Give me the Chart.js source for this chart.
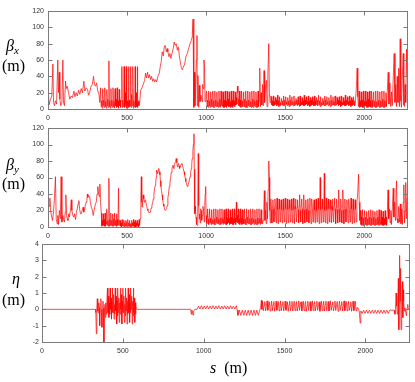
<!DOCTYPE html>
<html><head><meta charset="utf-8">
<script src="https://cdn.jsdelivr.net/npm/chart.js@4.4.1/dist/chart.umd.min.js"></script>
<style>
html,body{margin:0;padding:0;background:#fff;}
#wrap{position:relative;width:415px;height:382px;overflow:hidden;background:#fff;}
canvas{position:absolute;left:0;top:0;}
.lab{position:absolute;font-family:"Liberation Serif","DejaVu Serif",serif;color:#000;white-space:nowrap;line-height:16px;font-size:16px;}
.lab i{font-style:italic;}
.lab .sb{position:relative;top:3px;font-size:11px;font-style:italic;}
</style></head><body>
<div id="wrap">
<canvas id="c1" width="415" height="382"></canvas>
<canvas id="c2" width="415" height="382"></canvas>
<canvas id="c3" width="415" height="382"></canvas>
<div class="lab" style="left:6px;top:38px"><i>β</i><span class="sb">x</span></div>
<div class="lab" style="left:2px;top:58px">(m)</div>
<div class="lab" style="left:6px;top:157px"><i>β</i><span class="sb">y</span></div>
<div class="lab" style="left:2px;top:176px">(m)</div>
<div class="lab" style="left:12px;top:271px"><i>η</i></div>
<div class="lab" style="left:2px;top:292px">(m)</div>
<div class="lab" style="left:210px;top:360px"><i>s</i>&nbsp;&nbsp;(m)</div>
</div>
<script>
// ---------- data ----------
const xTicks = [0, 500, 1000, 1500, 2000];
const betaTicks = [0, 20, 40, 60, 80, 100, 120];
const etaTicks = [-2, -1, 0, 1, 2, 3, 4];

const sBetaX = [
0,3,7,16,24,31,35,41,47,54,62,66,71,75,81,88,94,98,104,111,115,121,130,138,147,155,164,170,178,185,193,201,210,218,227,233,242,250,256,263,271,280,288,294,301,307,315,322,328,
333,336,339,342,346,349,352,355,359,362,365,368,372,375,378,381,385,388,391,394,398,401,404,407,411,414,417,420,424,427,430,433,437,440,443,446,450,453,456,459,
463,467,470,473,476,479,481,484,487,490,493,495,498,501,504,507,509,512,515,518,521,523,526,529,532,535,537,540,543,546,549,551,554,557,560,563,565,568,571,575,580,
586,594,602,611,617,623,630,636,642,649,
655,662,668,674,681,687,695,704,710,716,
722,729,735,741,748,754,758,765,771,777,
784,792,798,805,811,818,824,830,836,843,
849,855,864,872,881,889,898,906,912,917,
921,923,927,929,933,938,942,944,948,953,
957,961,968,974,978,982,986,990,993,999,
1003,1006,1009,1012,1016,1019,1022,1025,1029,1032,1035,1038,1042,1045,1048,1051,1055,1058,1061,1064,
1068,1071,1074,1077,1081,1084,1087,1090,1094,1097,1100,1103,1107,1110,1113,1116,1120,1123,1126,1129,
1133,1136,1139,1142,1146,1149,1152,1155,1159,1162,1165,1168,1172,1175,1178,1181,1185,1188,1191,1194,
1198,1201,1204,1207,1211,1214,1217,1220,1224,1227,1230,1233,1237,1240,1243,1246,1250,1253,1256,1259,
1263,1266,1269,1272,1276,1279,1282,1285,1289,1292,1295,1298,1302,1305,1308,1311,1315,1318,1321,1324,
1328,1331,
1335,1339,1343,1347,1352,1357,1361,1366,1370,1375,1381,1385,1390,1396,1400,1404,1409,
1412,1415,1418,1421,1425,1428,1431,1434,1438,1441,1444,1447,1451,1454,1457,1460,1464,1467,1470,1473,
1477,1480,1483,1486,1490,1493,1496,1499,1503,1506,1509,1512,1516,1519,1522,1525,1529,1532,1535,1538,
1542,1545,1548,1551,1555,1558,1561,1564,1568,1571,1574,1577,1581,1584,1587,1590,1594,1597,1600,1603,
1607,1610,1613,1616,1620,1623,1626,1629,1633,1636,1639,1642,1646,1649,1652,1655,1659,1662,1665,1668,
1672,1675,1678,1681,1685,1688,1691,1694,1698,1701,1704,1707,1711,1714,1717,1720,1724,1727,1730,1733,
1737,1740,1743,1746,1750,1753,1756,1759,1763,1766,1769,1772,1776,1779,1782,1785,1789,1792,1795,1798,
1802,1805,1808,1811,1815,1818,1821,1824,1828,1831,1834,1837,1841,1844,1847,1850,1854,1857,1860,1863,
1867,1870,1873,1876,1880,1883,1886,1889,1893,1896,1899,1902,1906,1909,1912,1915,1919,1922,1925,1928,
1932,1935,1938,1941,
1945,1950,1955,1959,1963,
1968,1971,1974,1977,1981,1984,1987,1990,1994,1997,2000,2003,2007,2010,2013,2016,2020,2023,2026,2029,
2033,2036,2039,2042,2046,2049,2052,2055,2059,2062,2065,2068,2072,2075,2078,2081,2085,2088,2091,2094,
2098,2101,2104,2107,2111,2114,2117,2120,2124,2127,2130,2133,2137,2140,
2145,2151,2156,2162,2167,2172,2177,2183,2189,2194,2199,2203,2208,2213,2218,2222,2227,2231,2235,2240,2246,2250,2254,2258,2262,2267,2270
];
const betaX = [
35,18,5,12,16,55,8,4,10,6,60,20,45,12,4,8,60,8,4,34,25,28,20,12,16,14,22,15,20,16,23,18,25,20,34,22,26,24,17,20,27,30,40,30,28,32,22,18,8,
26,3,10,1,25,4,11,2,26,3,9,1,24,4,12,2,59,3,10,1,25,4,11,2,26,3,9,1,25,4,12,2,26,3,10,1,24,4,11,2,
14,52,2,11,3,8,52,2,20,3,7,52,1,10,3,9,52,2,11,3,8,52,2,18,4,7,52,1,10,3,9,52,2,20,3,8,52,2,10,4,8,
23,26,30,35,44,38,45,38,42,36,
40,34,37,33,36,33,40,44,52,58,
70,65,76,78,70,74,70,64,68,62,
68,74,82,78,80,72,76,66,58,51,
48,51,55,64,68,74,80,84,88,110,
53,2,45,4,25,60,90,4,41,2,
29,9,17,9,30,25,60,53,9,19,
22,3,11,2,22,4,10,2,21,3,12,3,22,2,10,2,22,4,11,3,
21,3,9,2,22,3,12,2,22,4,10,3,21,2,11,2,22,3,10,2,
22,4,12,3,21,3,9,2,22,3,11,2,22,4,10,3,21,5,14,6,
28,20,12,4,22,3,11,2,22,4,10,3,21,3,12,2,22,2,10,2,
22,4,11,3,21,3,9,2,22,3,12,2,22,4,10,3,21,2,11,2,
22,3,
10,50,3,20,5,30,4,47,8,25,35,3,40,80,20,8,16,
15,5,10,4,16,4,9,5,14,6,11,4,17,5,10,3,15,4,8,5,
13,5,10,4,16,4,11,5,15,6,9,4,14,5,10,3,17,4,11,5,
15,5,9,4,16,4,10,5,13,6,11,4,15,5,10,3,16,4,8,5,
14,5,10,4,17,4,11,5,15,6,9,4,16,5,10,3,14,4,11,5,
15,5,9,4,16,4,10,5,14,6,11,4,17,5,10,3,15,4,8,5,
13,5,10,4,16,4,11,5,15,6,9,4,14,5,10,3,17,4,11,5,
15,5,9,4,16,4,10,5,14,6,11,4,15,5,10,3,16,4,8,5,
14,5,10,4,17,4,11,5,15,6,9,4,16,5,10,3,14,4,11,5,
15,5,10,4,
12,27,50,15,3,
22,2,10,3,21,3,11,2,22,2,9,3,22,4,10,2,21,2,12,3,
22,3,10,2,22,2,11,3,21,3,10,2,22,2,9,3,22,4,11,2,
21,2,10,3,22,3,12,2,22,2,10,3,20,3,
20,45,6,32,3,21,4,38,68,8,30,3,40,8,50,3,86,10,2,35,68,5,3,30,8,73,40
];

const sBetaY = [
0,3,7,12,16,22,28,35,41,47,52,58,62,66,72,78,83,88,94,100,104,109,113,117,122,126,131,135,142,147,151,157,163,168,174,180,185,190,195,200,205,210,216,222,226,231,236,241,246,249,252,258,263,268,274,280,286,291,294,300,305,310,315,320,324,328,332,
337,340,343,346,349,352,355,358,361,364,367,370,373,376,379,382,385,388,391,394,397,400,403,406,409,412,415,418,421,424,427,430,433,436,439,442,446,449,452,
456,459,462,465,468,471,474,477,480,483,486,489,492,495,498,501,504,507,510,513,516,519,522,525,528,531,534,537,540,543,546,549,552,555,558,561,564,567,570,573,576,579,
583,587,590,593,596,602,606,609,613,617,
623,628,632,636,640,645,649,653,657,662,
666,670,674,678,681,684,687,690,693,697,
700,704,708,711,714,718,721,725,729,733,
737,741,746,750,754,758,763,767,771,775,
779,784,787,790,793,796,800,805,808,811,
815,818,822,826,829,832,835,838,842,847,
851,855,860,864,868,872,876,881,885,889,
894,898,902,906,909,912,916,919,923,925,
927,929,931,933,936,938,941,944,947,950,
953,956,959,962,965,968,972,976,980,985,
988,991,994,997,1000,
1003,1006,
1009,1012,1015,1018,1022,1025,1028,1031,1035,1038,1041,1044,1048,1051,1054,1057,1061,1064,1067,1070,
1074,1077,1080,1083,1087,1090,1093,1096,1100,1103,1106,1109,1113,1116,1119,1122,1126,1129,1132,1135,
1139,1142,1145,1148,1152,1155,1158,1161,1165,1168,1171,1174,1178,1181,1184,1187,1191,1194,1197,1200,
1204,1207,1210,1213,1217,1220,1223,1226,1230,1233,1236,1239,1243,1246,1249,1252,1256,1259,1262,1265,
1269,1272,1275,1278,1282,1285,1288,1291,1295,1298,1301,1304,1308,1311,1314,1317,1321,1324,1327,1330,
1334,1337,1340,1343,1347,1350,1353,1356,1360,
1365,1368,1372,1376,1380,1384,1388,1392,1396,1399,1402,1405,
1409,1412,1416,1419,1422,1425,1429,1432,1435,1438,1442,1445,1448,1451,1455,1458,1461,1464,1468,1471,
1474,1477,1481,1484,1487,1490,1494,1497,1500,1503,1507,1510,1513,1516,1520,1523,1526,1529,1533,1536,
1539,1542,1546,1549,1552,1555,1559,1562,1565,1568,1572,1575,1578,1581,1585,1588,1591,1594,1598,1601,
1604,1607,1611,1614,1617,1620,1624,1627,1630,1633,1637,1640,1643,1646,1650,1653,1656,1659,1663,1666,
1669,1672,1676,1679,1682,1685,1689,1692,1695,1698,1702,1705,1708,1711,1715,1718,1721,1724,1728,1731,
1734,1737,1741,1744,1747,1750,1754,1757,1760,1763,1767,1770,1773,1776,1780,1783,1786,1789,1793,1796,
1799,1802,1806,1809,1812,1815,1819,1822,1825,1828,1832,1835,1838,1841,1845,1848,1851,1854,1858,1861,
1864,1867,1871,1874,1877,1880,1884,1887,1890,1893,1897,1900,1903,1906,1910,1913,1916,1919,1923,1926,
1929,1932,1936,1939,1942,1945,1949,
1953,1958,1964,1968,1972,
1976,1979,1982,1985,1989,1992,1995,1998,2002,2005,2008,2011,2015,2018,2021,2024,2028,2031,2034,2037,
2041,2044,2047,2050,2054,2057,2060,2063,2067,2070,2073,2076,2080,2083,2086,2089,2093,2096,2099,2102,
2106,2109,2112,2115,2119,2122,2125,2128,2132,2135,2138,2141,2145,
2150,2154,2158,2163,2168,2172,2178,2183,2187,2192,2197,2200,2204,2208,2213,2218,2223,2228,2232,2237,2241,2246,2250,2254,2258,2262,2266,2270
];
const betaY = [
35,28,25,35,20,14,8,18,35,61,10,4,14,3,20,10,61,6,14,8,6,18,39,14,10,8,16,12,20,33,20,14,12,16,9,18,22,28,32,22,16,16,20,24,18,20,26,30,32,40,36,38,37,30,24,21,14,20,20,28,30,40,49,40,37,52,30,
17,1,8,2,16,2,9,1,17,1,7,3,22,2,8,1,59,1,9,2,17,2,8,1,16,1,10,2,17,2,8,1,16,1,9,2,47,2,8,
8,1,5,0,9,1,4,1,8,0,5,1,8,1,6,0,9,1,5,1,8,0,4,0,8,1,5,1,9,1,6,0,8,0,5,1,8,1,4,0,9,2,
10,35,61,30,24,39,34,30,32,33,
26,22,20,18,17,18,20,23,26,30,
34,40,47,50,53,60,69,66,65,68,
71,67,63,56,49,44,39,33,28,25,
22,20,20,22,26,35,42,49,54,59,
66,71,73,75,72,71,76,79,81,83,
78,73,75,77,74,71,73,75,76,77,
74,71,67,63,59,55,52,49,51,53,
57,61,66,71,77,83,92,100,113,70,
43,16,25,20,12,8,3,2,30,89,
26,10,16,5,22,20,8,14,25,18,
6,26,40,49,14,
4,12,
22,4,10,3,22,5,11,3,21,4,9,4,22,3,10,3,22,5,12,4,
21,4,10,3,22,3,11,4,22,5,10,3,21,4,9,3,22,3,11,4,
22,5,10,3,21,4,12,4,22,3,10,3,22,5,11,3,30,6,14,5,
22,4,10,3,22,5,11,3,21,4,9,4,22,3,10,3,22,5,12,4,
21,4,10,3,22,3,11,4,22,5,10,3,21,4,9,3,22,3,11,4,
22,5,10,3,21,4,12,4,8,
25,44,8,20,4,30,10,45,80,60,20,5,
34,21,5,25,33,22,6,24,34,20,5,26,35,21,4,25,34,22,6,24,
33,21,5,25,34,20,6,26,35,22,4,24,34,21,5,25,33,22,6,24,
34,20,5,26,35,21,4,25,34,22,6,24,33,21,5,25,39,20,6,26,
34,22,4,24,39,21,5,25,33,22,6,24,34,20,5,26,35,21,4,25,
34,22,6,24,33,21,5,25,34,20,6,26,35,22,4,24,60,21,5,25,
34,22,6,24,65,20,5,26,35,21,4,25,34,22,6,24,33,21,5,25,
34,20,6,26,35,22,4,24,34,21,5,25,45,22,6,24,34,20,5,26,
45,21,4,25,34,22,6,24,33,21,5,25,34,20,6,26,35,22,4,24,
34,21,5,25,33,22,6,
30,40,64,30,8,
20,3,12,2,21,2,11,3,20,3,12,2,19,2,10,3,20,3,12,2,
21,2,11,3,20,3,12,2,19,2,10,3,20,3,12,2,21,2,11,3,
20,3,12,2,19,2,10,3,20,3,12,2,15,
45,10,22,5,20,3,25,47,12,30,8,40,56,10,5,25,6,28,4,22,3,30,51,5,20,54,10,35
];

const sEta = [
0,330,333,336,339,342,345,348,351,354,357,361,364,367,371,374,377,380,383,386,389,392,395,398,401,
405,408,411,414,417,419,421,424,427,430,433,435,437,440,443,446,449,451,453,456,459,462,465,467,
469,472,475,478,481,483,485,488,491,494,497,499,501,504,507,510,513,515,517,520,523,526,529,531,
533,536,539,542,545,547,549,552,555,558,561,563,565,568,571,574,577,579,
581,585,
920,923,926,930,934,938,945,960,
968,977,986,995,1004,1013,1022,1031,1040,1049,1058,1067,1076,1085,1094,1103,1112,1121,1130,1139,1148,1157,1166,1175,1184,1193,1202,1208,
1212,1221,1230,1239,1248,1257,1266,1275,1284,1293,1302,1311,1320,1329,1338,1347,
1352,1357,1360,
1364,1369,1374,1378,1383,1388,1392,1397,1402,1406,1411,1416,1420,1425,1430,1434,1439,1444,1448,1453,1458,
1462,1467,1472,1476,1481,1486,1490,1495,1500,1504,1509,1514,1518,1523,1528,1532,1537,1542,1546,1551,1556,
1560,1565,1570,1574,1579,1584,1588,1593,1598,1602,1607,1612,1616,1621,1626,1630,1635,1640,1644,1649,1654,
1658,1663,1668,1672,1677,1682,1686,1691,1696,1700,1705,1710,1714,1719,1724,1728,1733,1738,1742,1747,1752,
1756,1761,1766,1770,1775,1780,1784,1789,1794,1798,1803,1808,1812,1817,1822,1826,1831,1836,1840,1845,1850,
1854,1859,1864,1868,1873,1878,1882,1887,1892,1896,1901,1906,1910,1915,1920,1924,1929,1934,1938,1943,1948,
1955,1962,1968,1972,
1980,1989,1998,2007,2016,2025,2034,2043,2052,2061,2070,2079,2088,2097,2106,2115,2124,2133,2142,2151,2178,
2183,2186,2190,2194,2198,2201,2204,2207,2210,2212,2215,2217,2219,2221,2224,2226,2229,2232,2235,2237,2241,2245,2250,2254,2258,2262,2266,2270
];
const eta = [
0,0,-0.2,-1.5,0,0.65,-0.1,-0.2,0.4,0.1,-1.0,0.3,0.65,0,-1.1,0.2,0.5,0.1,-2.0,0,0.3,-0.5,0.4,-0.3,0.5,
1.3,-0.2,0.8,-0.5,0.4,-0.3,1.3,0.0,0.7,-0.6,0.5,-0.2,1.3,-0.2,0.9,-0.6,0.3,-0.3,1.3,-0.1,0.8,-0.9,0.5,-0.4,
1.3,-0.2,0.7,-0.8,0.4,-0.3,1.3,0.0,0.9,-0.9,0.5,-0.2,1.3,-0.2,0.8,-0.8,0.3,-0.4,1.3,-0.1,0.7,-0.9,0.5,-0.3,
1.3,-0.2,0.9,-0.8,0.4,-0.2,1.3,0.0,0.8,-0.9,0.5,-0.4,1.3,-0.2,0.7,-0.8,0.4,-0.3,
0.2,0,
0,-0.3,-0.05,-0.1,-0.35,-0.1,0,0,
0.2,0.02,0.22,0.02,0.2,0.02,0.22,0.02,0.2,0.02,0.22,0.02,0.2,0.02,0.22,0.02,0.2,0.02,0.22,0.02,0.2,0.02,0.22,0.02,0.2,0.02,0.22,-0.05,
-0.37,-0.05,-0.37,-0.05,-0.37,-0.05,-0.37,-0.05,-0.37,-0.05,-0.37,-0.05,-0.37,-0.05,-0.37,-0.05,
0.1,0.55,0.0,
0.5,-0.08,0.25,0.48,-0.1,0.2,0.52,-0.06,0.28,0.46,-0.1,0.18,0.5,-0.08,0.3,0.48,-0.12,0.22,0.5,-0.06,0.26,
0.47,-0.1,0.2,0.52,-0.08,0.3,0.48,-0.1,0.24,0.5,-0.06,0.2,0.46,-0.12,0.28,0.5,-0.08,0.22,0.49,-0.1,0.3,
0.5,-0.08,0.25,0.48,-0.1,0.2,0.52,-0.06,0.28,0.46,-0.1,0.18,0.5,-0.08,0.3,0.48,-0.12,0.22,0.5,-0.06,0.26,
0.47,-0.1,0.2,0.52,-0.08,0.3,0.48,-0.1,0.24,0.5,-0.06,0.2,0.46,-0.12,0.28,0.5,-0.08,0.22,0.49,-0.1,0.3,
0.5,-0.08,0.25,0.48,-0.1,0.2,0.52,-0.06,0.28,0.46,-0.1,0.18,0.5,-0.08,0.3,0.48,-0.12,0.22,0.5,-0.06,0.26,
0.47,-0.1,0.2,0.52,-0.08,0.3,0.48,-0.1,0.24,0.5,-0.06,0.2,0.46,-0.12,0.28,0.5,-0.08,0.22,0.49,-0.1,0.1,
0.1,-0.1,-0.84,-0.1,
-0.25,-0.05,-0.25,-0.05,-0.25,-0.05,-0.25,-0.05,-0.25,-0.05,-0.25,-0.05,-0.25,-0.05,-0.25,-0.05,-0.25,-0.05,-0.25,-0.05,-0.05,
-0.3,-0.05,1.0,0.2,-0.3,0.5,1.9,-1.25,1.2,3.3,0.5,2.5,1.0,-1.25,0.3,1.0,1.7,-0.5,1.2,0.5,-0.1,0.1,-0.2,-0.4,0.1,0.3,0.0,-0.05
];

// ---------- drawing ----------
const W = 415, H = 382;
const frame = {
  id: 'frame',
  afterDraw(chart) {
    const {ctx, chartArea: a} = chart;
    const xs = chart.scales.x, ys = chart.scales.y;
    ctx.save();
    ctx.strokeStyle = '#7a7a7a';
    ctx.lineWidth = 1;
    ctx.strokeRect(a.left + 0.5, a.top + 0.5, a.right - a.left, a.bottom - a.top);
    ctx.beginPath();
    const tl = 4;
    xTicks.forEach(v => {
      const p = Math.round(xs.getPixelForValue(v)) + 0.5;
      ctx.moveTo(p, a.bottom + 0.5); ctx.lineTo(p, a.bottom + 0.5 - tl);
      ctx.moveTo(p, a.top + 0.5); ctx.lineTo(p, a.top + 0.5 + tl);
    });
    chart.options.yTickList.forEach(v => {
      const p = Math.round(ys.getPixelForValue(v)) + 0.5;
      ctx.moveTo(a.left + 0.5, p); ctx.lineTo(a.left + 0.5 + tl, p);
      ctx.moveTo(a.right + 0.5, p); ctx.lineTo(a.right + 0.5 - tl, p);
    });
    ctx.stroke();
    ctx.restore();
  }
};

function makeChart(id, sArr, vArr, area, yMin, yMax, yList, yPad) {
  const n = Math.min(sArr.length, vArr.length);
  const pts = [];
  for (let i = 0; i < n; i++) pts.push({x: sArr[i], y: vArr[i]});
  const tickFont = {family: '"Liberation Sans", Arial, sans-serif', size: 7};
  return new Chart(document.getElementById(id), {
    type: 'line',
    data: {datasets: [{data: pts, borderColor: '#ff0000', borderWidth: 0.7, pointRadius: 0, tension: 0, fill: false}]},
    options: {
      responsive: false, animation: false, devicePixelRatio: 1,
      yTickList: yList,
      layout: {padding: {left: 0, right: W - area.right, top: area.top, bottom: H - area.bottom - 20}},
      plugins: {legend: {display: false}, tooltip: {enabled: false}},
      scales: {
        x: {
          type: 'linear', min: 0, max: 2270,
          afterBuildTicks: s => { s.ticks = xTicks.map(v => ({value: v})); },
          afterFit: s => { s.height = 20; },
          grid: {display: false, drawTicks: false},
          border: {display: false},
          ticks: {autoSkip: false, maxRotation: 0, font: tickFont, color: '#333', padding: 5, callback: v => String(v)}
        },
        y: {
          type: 'linear', min: yMin, max: yMax,
          afterBuildTicks: s => { s.ticks = yList.map(v => ({value: v})); },
          afterFit: s => { s.width = area.left; },
          grid: {display: false, drawTicks: false},
          border: {display: false},
          ticks: {autoSkip: false, font: tickFont, color: '#333', padding: yPad, callback: v => String(v)}
        }
      }
    },
    plugins: [frame]
  });
}

makeChart('c1', sBetaX, betaX, {left: 48, right: 407, top: 11, bottom: 109}, 0, 120, betaTicks, 4);
makeChart('c2', sBetaY, betaY, {left: 48, right: 407, top: 128, bottom: 227}, 0, 120, betaTicks, 4);
makeChart('c3', sEta, eta, {left: 42, right: 409, top: 244, bottom: 342}, -2, 4, etaTicks, 3);

const bad = [];
if (sBetaX.length !== betaX.length) bad.push('betaX ' + sBetaX.length + ' vs ' + betaX.length);
if (sBetaY.length !== betaY.length) bad.push('betaY ' + sBetaY.length + ' vs ' + betaY.length);
if (sEta.length !== eta.length) bad.push('eta ' + sEta.length + ' vs ' + eta.length);
if (bad.length) throw new Error('length mismatch: ' + bad.join('; '));
</script>
</body></html>
